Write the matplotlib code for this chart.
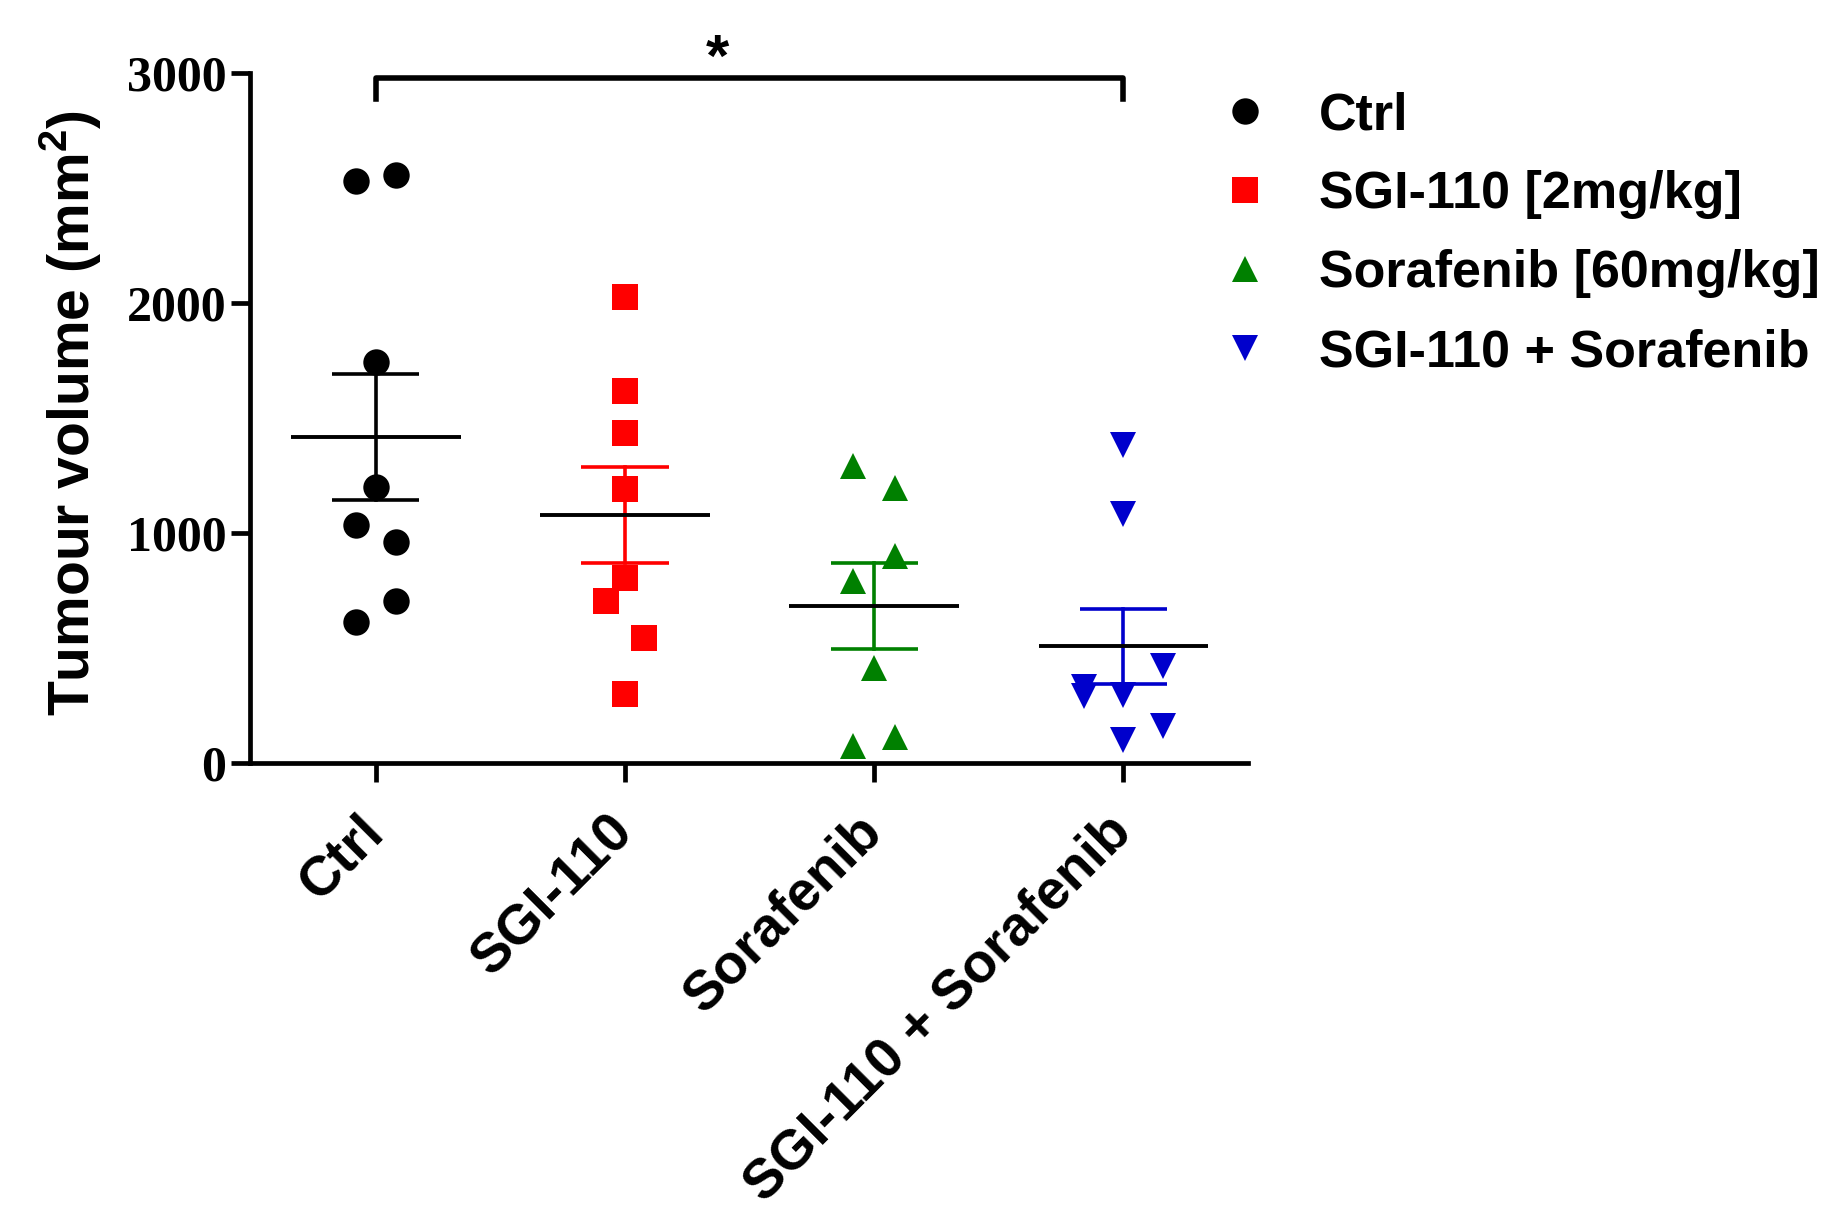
import numpy as np
import matplotlib
matplotlib.use("Agg")
import matplotlib.pyplot as plt
from matplotlib.lines import Line2D

# ---- data ----
groups = ["Ctrl", "SGI-110", "Sorafenib", "SGI-110 + Sorafenib"]
legend_labels = ["Ctrl", "SGI-110 [2mg/kg]", "Sorafenib [60mg/kg]", "SGI-110 + Sorafenib"]

ctrl_vals = [2533, 2558, 1742, 1200, 1033, 961, 702, 613]
sgi_vals = [2029, 1617, 1434, 1193, 805, 702, 542, 297]
sora_vals = [1290, 1195, 901, 791, 411, 73, 113]
combo_vals = [1383, 1081, 419, 330, 290, 293, 158, 97]

# horizontal scatter side of each point (-1 left, 0 centre, +1 right)
ctrl_side = [-1, 1, 0, 0, -1, 1, 1, -1]
sgi_side = [0, 0, 0, 0, 0, -1, 1, 0]
sora_side = [-1, 1, 1, -1, 0, -1, 1]
combo_side = [0, 0, 1, -1, -1, 0, 1, 0]

yticks = [0, 1000, 2000, 3000]

# ---- style ----
colors = ["#000000", "#FF0000", "#008000", "#0000CC"]
markers = ["o", "s", "^", "v"]
spread = [0.08, 0.078, 0.085, 0.16]
sans = "Liberation Sans"
serif = "Liberation Serif"

plt.rcParams["mathtext.fontset"] = "custom"
plt.rcParams["mathtext.bf"] = "Liberation Sans:bold"
plt.rcParams["mathtext.rm"] = "Liberation Sans:bold"

W, H = 1826, 1213
fig = plt.figure(figsize=(W / 100, H / 100), dpi=100)
ax = fig.add_axes([250 / W, 1 - 762.7 / H, 998 / W, 689.3 / H])

all_vals = [ctrl_vals, sgi_vals, sora_vals, combo_vals]
all_side = [ctrl_side, sgi_side, sora_side, combo_side]

for i, (vals, side) in enumerate(zip(all_vals, all_side)):
    v = np.array(vals, dtype=float)
    x = i + np.array(side) * spread[i]
    m = v.mean()
    s = v.std(ddof=1) / np.sqrt(len(v))
    # mean line
    ax.plot([i - 0.34, i + 0.34], [m, m], color="black", lw=2.8, zorder=3,
            solid_capstyle="butt")
    # SEM
    ax.plot([i, i], [m - s, m + s], color=colors[i], lw=2.6, zorder=2)
    ax.plot([i - 0.175, i + 0.175], [m + s, m + s], color=colors[i], lw=2.6, zorder=2,
            solid_capstyle="butt")
    ax.plot([i - 0.175, i + 0.175], [m - s, m - s], color=colors[i], lw=2.6, zorder=2,
            solid_capstyle="butt")
    ax.plot(x, v, ls="none", marker=markers[i], color=colors[i], markersize=19,
            markeredgewidth=0, zorder=4, clip_on=False)

ax.set_xlim(-0.505, 3.5)
ax.set_ylim(0, 3000)
ax.set_yticks(yticks)
ax.set_yticklabels([str(t) for t in yticks], fontfamily=serif, fontweight="bold", fontsize=36)
ax.set_xticks(range(len(groups)))
ax.set_xticklabels(groups, fontfamily=sans, fontweight="bold", fontsize=40,
                   rotation=45, ha="right", va="center", rotation_mode="anchor")

for sp in ["top", "right"]:
    ax.spines[sp].set_visible(False)
for sp in ["left", "bottom"]:
    ax.spines[sp].set_linewidth(3.4)
ax.tick_params(axis="both", direction="out", length=14, width=3.4, color="black")
ax.tick_params(axis="y", pad=3)
ax.tick_params(axis="x", pad=30)

ax.set_ylabel(r"Tumour volume (mm$^{\mathbf{2}}$)", fontfamily=sans, fontweight="bold",
              fontsize=41, va="center")
ax.yaxis.set_label_coords(-0.18, 0.507)

# significance bracket
ax.plot([0, 0, 3, 3], [2890, 2978, 2978, 2890], color="black", lw=4,
        solid_joinstyle="round", clip_on=False, zorder=5)
ax.text(1.37, 3055, "*", ha="center", va="center", fontfamily=sans,
        fontweight="bold", fontsize=43, clip_on=False)

# legend
handles = [Line2D([], [], ls="none", marker=markers[i], color=colors[i],
                  markersize=19, markeredgewidth=0) for i in range(4)]
leg = fig.legend(handles, legend_labels, loc="upper left",
                 bbox_to_anchor=(1219 / W, 1 - 91 / H), frameon=False,
                 prop={"family": sans, "weight": "bold", "size": 37.5},
                 handlelength=1.0, handletextpad=0.92, borderpad=0,
                 borderaxespad=0, labelspacing=0.58)

fig.savefig("out.png", dpi=100)
